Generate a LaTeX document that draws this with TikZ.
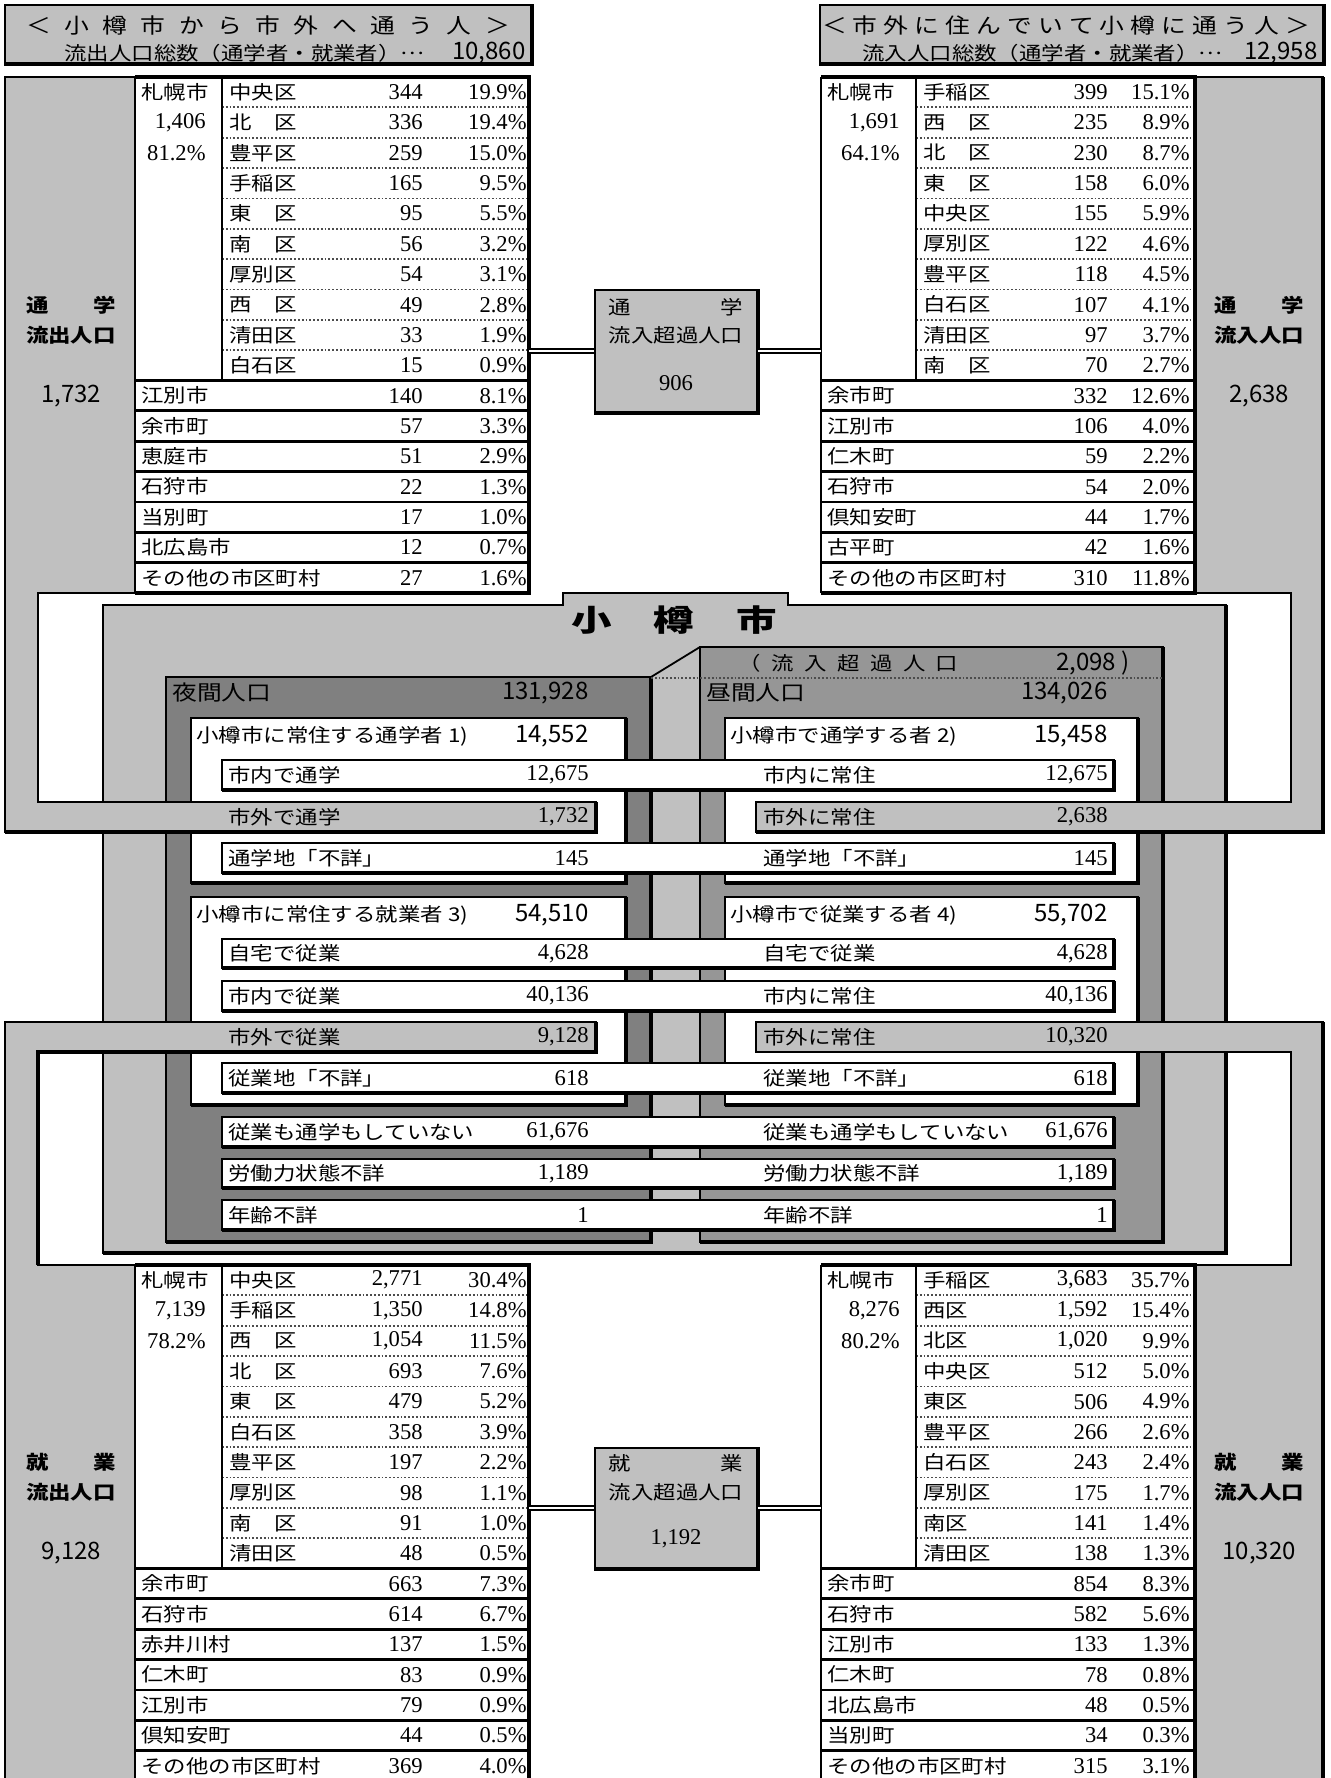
\documentclass[tikz,border=0pt]{standalone}
\usepackage{fontspec}
\setmainfont{Liberation Serif}
\newfontfamily\jp[FakeStretch=1.18]{Noto Sans CJK JP}
\newfontfamily\gothic{Noto Sans CJK JP}
\newfontfamily\jtitle[FakeStretch=1.35]{Noto Sans CJK JP}
\usetikzlibrary{positioning}

\definecolor{band}{RGB}{192,192,192}
\definecolor{night}{RGB}{128,128,128}
\definecolor{day}{RGB}{150,150,150}

\tikzset{
  frameline/.style={line width=0.9pt},
  shadowline/.style={line width=1.8pt},
  rowrule/.style={line width=1.4pt},
  dotrule/.style={line width=0.9pt, densely dotted, black!70},
  cell/.style={anchor=west, inner sep=0pt, font=\jp\fontsize{9.5}{11}\selectfont},
  num/.style={anchor=east, inner sep=0pt, font=\fontsize{11.3}{13}\selectfont},
  gnum/.style={inner sep=0pt, font=\gothic\fontsize{12}{14}\selectfont},
  glbl/.style={anchor=west, inner sep=0pt, font=\jp\fontsize{9.5}{11}\selectfont},
  bandlbl/.style={align=center, inner sep=0pt, font=\jp\bfseries\fontsize{9.5}{15.2}\selectfont},
  headbox/.style={draw, fill=band, frameline, minimum height=29pt, inner sep=0pt},
  netbox/.style={draw, fill=band, frameline, minimum width=81pt, inner sep=0pt},
  link/.style={double, double distance=1.4pt, line width=0.7pt}
}

% box with heavy bottom and right edge
\newcommand{\panel}[5]{%
  \filldraw[fill=#5, frameline] (#1,#2) rectangle (#3,#4);
  \draw[shadowline] (#1,#4) -- (#3,#4) -- (#3,#2);}
\newcommand{\midots}{\raisebox{3pt}{…}}

% table of towns: left, city column, right, top, count x, share x, Sapporo total, Sapporo share, rows
\newcommand{\citytable}[9]{%
  \fill[white] (#1,#4) rectangle (#3,#4+516);
  \foreach \name/\cnt/\pct [count=\i] in {#9} {
    \pgfmathsetmacro\yt{#4+30.35*(\i-1)}
    \pgfmathsetmacro\yc{\yt+15.2}
    \ifnum\i<11
      \node[cell] (n#1x#4r\i) at (#2+7,\yc) {\name};
      \ifnum\i>1 \draw[dotrule] (#2,\yt) -- (#3,\yt);\fi
    \else
      \node[cell] (n#1x#4r\i) at (#1+6,\yc) {\name};
      \draw[rowrule] (#1,\yt) -- (#3,\yt);
    \fi
    \node[num] (c#1x#4r\i) at (#5,\yc) {\cnt};
    \node[num] (p#1x#4r\i) at (#6,\yc) {\pct};
  }
  \draw[rowrule] (#2,#4) -- (#2,#4+303.5);
  \node[cell] (s#1x#4) at (#1+6,#4+15.2) {札幌市};
  \node[num] (t#1x#4) at (#2-16,#4+45.5) {#7};
  \node[num] (u#1x#4) at (#2-16,#4+75.9) {#8};
  \draw[frameline] (#1,#4+516) -- (#1,#4);
  \draw[shadowline] (#1,#4) -- (#3,#4) -- (#3,#4+516) -- (#1,#4+516);}

\begin{document}
\begin{tikzpicture}[x=0.5pt, y=-0.5pt]
\useasboundingbox (0,0) rectangle (1330,1778);

% headers
\node[headbox, minimum width=263pt] (outhead) at (268,34) {};
\draw[shadowline] (outhead.south west) -- (outhead.south east) -- (outhead.north east);
\node[inner sep=0pt, font=\jp\fontsize{10.5}{12}\selectfont] (outtitle) at (268,25) {\makebox[242pt][s]{＜ 小 樽 市 か ら 市 外 へ 通 う 人 ＞}};
\node[glbl] (outtotal) at (64,53) {流出人口総数（通学者・就業者）\midots};
\node[gnum, anchor=east] (outtotalnum) at (526,53) {10,860};

\node[headbox, minimum width=251.5pt] (inhead) at (1071.5,34) {};
\draw[shadowline] (inhead.south west) -- (inhead.south east) -- (inhead.north east);
\node[inner sep=0pt, font=\jp\fontsize{10.5}{12}\selectfont] (intitle) at (1066,25) {\makebox[244pt][s]{＜ 市 外 に 住 ん で い て 小 樽 に 通 う 人 ＞}};
\node[glbl] (intotal) at (862,53) {流入人口総数（通学者・就業者）\midots};
\node[gnum, anchor=east] (intotalnum) at (1318,53) {12,958};

% Otaru
\filldraw[fill=band, frameline] (103,605) -- (563,605) -- (563,593) -- (788,593) -- (788,605) -- (1226,605) -- (1226,1253) -- (103,1253) -- cycle;
\draw[shadowline] (103,1253) -- (1226,1253) -- (1226,605);
\node[inner sep=0pt, font=\jtitle\bfseries\fontsize{15}{17}\selectfont] (cityname) at (674,620) {\makebox[103pt][s]{小 樽 市}};

\panel{166}{677}{651}{1242}{night}
\panel{700}{647}{1163}{1242}{day}
\draw[frameline] (651,677) -- (700,647);
\draw[dotrule] (651,678) -- (1163,678);
\node[glbl] (surplus) at (738,663) {\makebox[110pt][s]{（ 流 入 超 過 人 口}};
\node[gnum, anchor=east] (surplusnum) at (1130,663) {2,098 )};
\node[glbl, font=\jp\fontsize{10.5}{12}\selectfont] (nightlbl) at (172,693) {夜間人口};
\node[gnum, anchor=east] (nightnum) at (589,693) {131,928};
\node[glbl, font=\jp\fontsize{10.5}{12}\selectfont] (daylbl) at (706,693) {昼間人口};
\node[gnum, anchor=east] (daynum) at (1108,693) {134,026};

\panel{191}{718}{626}{883}{white}
\panel{725}{718}{1138}{883}{white}
\panel{191}{897}{626}{1105}{white}
\panel{725}{897}{1138}{1105}{white}
\node[glbl] (homeschool) at (196,736) {小樽市に常住する通学者 1)};
\node[gnum, anchor=east] (homeschoolnum) at (589,736) {14,552};
\node[glbl] (cityschool) at (730,736) {小樽市で通学する者 2)};
\node[gnum, anchor=east] (cityschoolnum) at (1108,736) {15,458};
\node[glbl] (homework) at (196,915) {小樽市に常住する就業者 3)};
\node[gnum, anchor=east] (homeworknum) at (589,915) {54,510};
\node[glbl] (citywork) at (730,915) {小樽市で従業する者 4)};
\node[gnum, anchor=east] (cityworknum) at (1108,915) {55,702};

\foreach \yt/\yb/\la/\va/\lb/\vb [count=\k] in {
  760/790/市内で通学/{12,675}/市内に常住/{12,675},
  843/873/通学地「不詳」/145/通学地「不詳」/145,
  939/968/自宅で従業/{4,628}/自宅で従業/{4,628},
  981/1011/市内で従業/{40,136}/市内に常住/{40,136},
  1063/1093/従業地「不詳」/618/従業地「不詳」/618,
  1117/1147/従業も通学もしていない/{61,676}/従業も通学もしていない/{61,676},
  1159/1188/労働力状態不詳/{1,189}/労働力状態不詳/{1,189},
  1200/1230/年齢不詳/1/年齢不詳/1}{
  \panel{222}{\yt}{1114}{\yb}{white}
  \node[cell] (rowl\k) at (228,{(\yt+\yb)/2}) {\la};
  \node[num] (rowlv\k) at (589,{(\yt+\yb)/2}) {\va};
  \node[cell] (rowr\k) at (763,{(\yt+\yb)/2}) {\lb};
  \node[num] (rowrv\k) at (1108,{(\yt+\yb)/2}) {\vb};
}

% school bands
\filldraw[fill=band, frameline] (5,77) -- (135,77) -- (135,593) -- (38,593) -- (38,802) -- (596,802) -- (596,832) -- (5,832) -- cycle;
\draw[shadowline] (5,832) -- (596,832) -- (596,802);
\filldraw[fill=band, frameline] (1323,77) -- (1195,77) -- (1195,593) -- (1291,593) -- (1291,802) -- (756,802) -- (756,832) -- (1323,832) -- cycle;
\draw[shadowline] (756,832) -- (1323,832) -- (1323,77);
\node[cell] (outschoolrow) at (228,817) {市外で通学};
\node[num] (outschoolrownum) at (589,817) {1,732};
\node[cell] (inschoolrow) at (763,817) {市外に常住};
\node[num] (inschoolrownum) at (1108,817) {2,638};

% work bands
\filldraw[fill=band, frameline] (5,1022) -- (596,1022) -- (596,1052) -- (38,1052) -- (38,1265) -- (135,1265) -- (135,1790) -- (5,1790) -- cycle;
\draw[shadowline] (596,1022) -- (596,1052) -- (38,1052) -- (38,1265);
\filldraw[fill=band, frameline] (1323,1022) -- (756,1022) -- (756,1052) -- (1291,1052) -- (1291,1265) -- (1195,1265) -- (1195,1790) -- (1323,1790) -- cycle;
\draw[shadowline] (1323,1022) -- (1323,1790);
\node[cell] (outworkrow) at (228,1037) {市外で従業};
\node[num] (outworkrownum) at (589,1037) {9,128};
\node[cell] (inworkrow) at (763,1037) {市外に常住};
\node[num] (inworkrownum) at (1108,1037) {10,320};

\node[bandlbl] (outschool) at (71,320) {\makebox[44.8pt][s]{通 学}\\流出人口};
\node[gnum] (outschoolnum) at (71,396) {1,732};
\node[bandlbl] (inschool) at (1259,320) {\makebox[44.8pt][s]{通 学}\\流入人口};
\node[gnum] (inschoolnum) at (1259,396) {2,638};
\node[bandlbl] (outwork) at (71,1477.5) {\makebox[44.8pt][s]{就 業}\\流出人口};
\node[gnum] (outworknum) at (71,1553) {9,128};
\node[bandlbl] (inwork) at (1259,1477.5) {\makebox[44.8pt][s]{就 業}\\流入人口};
\node[gnum] (inworknum) at (1259,1553) {10,320};

% tables
\citytable{135}{222}{529}{77}{423}{527}{1,406}{81.2\%}{
  中央区/344/19.9\%, 北　区/336/19.4\%, 豊平区/259/15.0\%, 手稲区/165/9.5\%,
  東　区/95/5.5\%, 南　区/56/3.2\%, 厚別区/54/3.1\%, 西　区/49/2.8\%,
  清田区/33/1.9\%, 白石区/15/0.9\%, 江別市/140/8.1\%, 余市町/57/3.3\%,
  恵庭市/51/2.9\%, 石狩市/22/1.3\%, 当別町/17/1.0\%, 北広島市/12/0.7\%,
  その他の市区町村/27/1.6\%}
\citytable{821}{916}{1195}{77}{1108}{1190}{1,691}{64.1\%}{
  手稲区/399/15.1\%, 西　区/235/8.9\%, 北　区/230/8.7\%, 東　区/158/6.0\%,
  中央区/155/5.9\%, 厚別区/122/4.6\%, 豊平区/118/4.5\%, 白石区/107/4.1\%,
  清田区/97/3.7\%, 南　区/70/2.7\%, 余市町/332/12.6\%, 江別市/106/4.0\%,
  仁木町/59/2.2\%, 石狩市/54/2.0\%, 倶知安町/44/1.7\%, 古平町/42/1.6\%,
  その他の市区町村/310/11.8\%}
\citytable{135}{222}{529}{1265}{423}{527}{7,139}{78.2\%}{
  中央区/{2,771}/30.4\%, 手稲区/{1,350}/14.8\%, 西　区/{1,054}/11.5\%, 北　区/693/7.6\%,
  東　区/479/5.2\%, 白石区/358/3.9\%, 豊平区/197/2.2\%, 厚別区/98/1.1\%,
  南　区/91/1.0\%, 清田区/48/0.5\%, 余市町/663/7.3\%, 石狩市/614/6.7\%,
  赤井川村/137/1.5\%, 仁木町/83/0.9\%, 江別市/79/0.9\%, 倶知安町/44/0.5\%,
  その他の市区町村/369/4.0\%}
\citytable{821}{916}{1195}{1265}{1108}{1190}{8,276}{80.2\%}{
  手稲区/{3,683}/35.7\%, 西区/{1,592}/15.4\%, 北区/{1,020}/9.9\%, 中央区/512/5.0\%,
  東区/506/4.9\%, 豊平区/266/2.6\%, 白石区/243/2.4\%, 厚別区/175/1.7\%,
  南区/141/1.4\%, 清田区/138/1.3\%, 余市町/854/8.3\%, 石狩市/582/5.6\%,
  江別市/133/1.3\%, 仁木町/78/0.8\%, 北広島市/48/0.5\%, 当別町/34/0.3\%,
  その他の市区町村/315/3.1\%}

% net inflow boxes
\node[netbox, minimum height=61pt] (schoolnet) at (676,351) {};
\draw[shadowline] (schoolnet.south west) -- (schoolnet.south east) -- (schoolnet.north east);
\node[glbl, anchor=center] (schoolnet1) at (676,307) {\makebox[67.2pt][s]{通 学}};
\node[glbl, anchor=center] (schoolnet2) at (676,335) {流入超過人口};
\node[num, anchor=center] (schoolnet3) at (676,383) {906};
\coordinate (schoolL) at (529,351);
\coordinate (schoolR) at (821,351);
\draw[link] (schoolL) -- (schoolnet);
\draw[link] (schoolnet) -- (schoolR);

\node[netbox, minimum height=60pt] (worknet) at (676,1508) {};
\draw[shadowline] (worknet.south west) -- (worknet.south east) -- (worknet.north east);
\node[glbl, anchor=center] (worknet1) at (676,1463) {\makebox[67.2pt][s]{就 業}};
\node[glbl, anchor=center] (worknet2) at (676,1492) {流入超過人口};
\node[num, anchor=center] (worknet3) at (676,1539) {1,192};
\coordinate (workL) at (529,1508);
\coordinate (workR) at (821,1508);
\draw[link] (workL) -- (worknet);
\draw[link] (worknet) -- (workR);
\end{tikzpicture}
\end{document}
